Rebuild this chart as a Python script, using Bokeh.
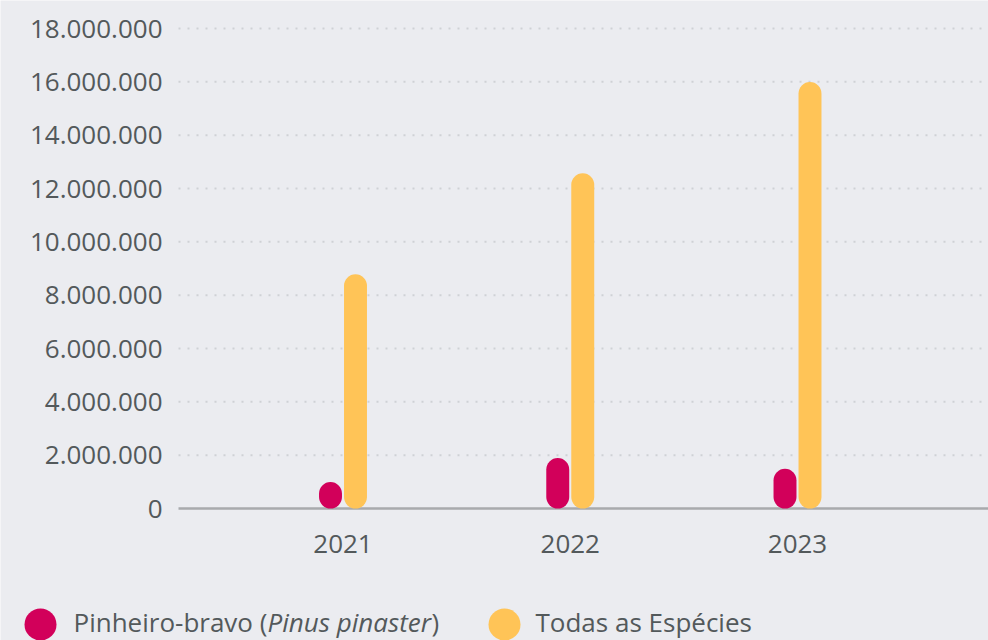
from bokeh.plotting import figure
from bokeh.models import ColumnDataSource, Range1d
from bokeh.transform import dodge
from bokeh.core.properties import value
from bokeh.embed import file_html
from bokeh.resources import INLINE

# ---- data ----
years = [2021, 2022, 2023]
year_labels = ["2021", "2022", "2023"]
pinheiro = [990000, 1890000, 1490000]
todas = [8780000, 12570000, 15990000]
y_ticks = [0, 2000000, 4000000, 6000000, 8000000, 10000000, 12000000, 14000000, 16000000, 18000000]
y_tick_labels = ["0", "2.000.000", "4.000.000", "6.000.000", "8.000.000", "10.000.000",
                 "12.000.000", "14.000.000", "16.000.000", "18.000.000"]
series_names = ["Pinheiro-bravo (", "Pinus pinaster", ")", "Todas as Espécies"]

BG = "#ebecf0"
PINK = "#d2005a"
YELLOW = "#ffc457"
TXT = "#53595b"
GRID = "#cfd1d5"
BASE = "#a8aaad"
FONT = "Open Sans"
FS = "26px"

W, H = 988, 640
PLOT_LEFT = 178          # where grid lines start (px)
ZERO_PX, TOP_PX = 508, 28  # pixel rows of 0 and 18.000.000
px_per_val = (ZERO_PX - TOP_PX) / 18000000.0
yr_px = 227.25           # px between years
yr0_px = 342.5           # px of first year group centre

x_start = years[0] - yr0_px / yr_px
x_end = x_start + W / yr_px
y_top = 18000000 + TOP_PX / px_per_val
y_bot = -(H - ZERO_PX) / px_per_val

src = ColumnDataSource(dict(x=years, pin=pinheiro, tod=todas))

p = figure(width=W, height=H, output_backend="svg", toolbar_location=None,
           x_range=Range1d(x_start, x_end), y_range=Range1d(y_bot, y_top),
           min_border=0, x_axis_location=None, y_axis_location=None)
p.extra_x_ranges = {"px": Range1d(0, W)}
p.extra_y_ranges = {"px": Range1d(H, 0)}
p.background_fill_color = BG
p.border_fill_color = BG
p.outline_line_color = None
p.grid.visible = False

# grid lines (dotted) and baseline
grid_vals = y_ticks[1:]
p.segment(x0=[PLOT_LEFT] * len(grid_vals), x1=[W] * len(grid_vals), y0=grid_vals, y1=grid_vals,
          x_range_name="px", line_color=GRID, line_width=2, line_dash="2 7")
p.segment(x0=[PLOT_LEFT], x1=[W], y0=[0], y1=[0], x_range_name="px",
          line_color=BASE, line_width=2.5)

# bars
bw = 0.101
off = 0.055
p.vbar(x=dodge("x", -off), top="pin", bottom=0, width=bw, source=src,
       fill_color=PINK, line_color=None, border_radius=12)
p.vbar(x=dodge("x", off), top="tod", bottom=0, width=bw, source=src,
       fill_color=YELLOW, line_color=None, border_radius=12)

# y tick labels
p.text(x=[162] * len(y_ticks), y=y_ticks, text=y_tick_labels, x_range_name="px",
       text_font=value(FONT), text_font_size=FS, text_color=TXT,
       text_align="right", text_baseline="middle")

# category labels
p.text(x=years, y=[543] * len(years), text=year_labels, y_range_name="px",
       text_font=value(FONT), text_font_size=FS, text_color=TXT,
       text_align="center", text_baseline="middle")

# legend
p.scatter(x=[40, 504], y=[624, 624], size=32, color=[PINK, YELLOW], line_color=None,
          x_range_name="px", y_range_name="px")
leg_x = [73, 267, 431, 535]
leg_style = ["normal", "italic", "normal", "normal"]
for lx, txt, st in zip(leg_x, series_names, leg_style):
    p.text(x=[lx], y=[621], text=[txt], x_range_name="px", y_range_name="px",
           text_font=value(FONT), text_font_size=FS, text_font_style=st,
           text_color=TXT, text_baseline="middle")

open("out.html", "w").write(file_html(p, INLINE))
